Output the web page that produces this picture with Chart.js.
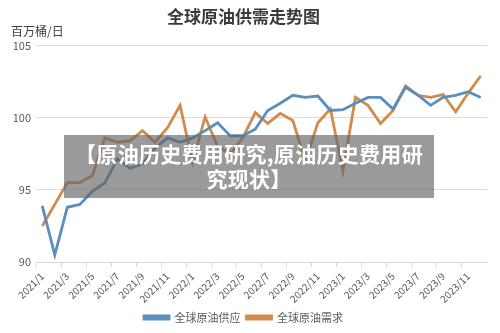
<!DOCTYPE html>
<html>
<head>
<meta charset="utf-8">
<script src="https://cdn.jsdelivr.net/npm/chart.js@4.4.1/dist/chart.umd.min.js"></script>
<style>
  html, body { margin: 0; padding: 0; background: #fff; }
  #wrap { position: relative; width: 500px; height: 333px; }
  #unit { position: absolute; left: 11px; top: 22px; font: 12px "Noto Sans CJK SC", sans-serif; color: #404040; }
  #banner {
    position: absolute; left: 64px; top: 135px; width: 370px; height: 63px;
    background: rgba(100, 100, 100, 0.65); color: #fff; text-align: center;
    font: bold 21px/25px "Noto Sans CJK SC", sans-serif; letter-spacing: 0.3px; padding-top: 6px; box-sizing: border-box;
  }
</style>
</head>
<body>
<div id="wrap">
  <canvas id="c" width="500" height="333"></canvas>
  <div id="unit">百万桶/日</div>
  <div id="banner">【原油历史费用研究,原油历史费用研<br>究现状】</div>
</div>
<script>
var months = ['2021/1','2021/2','2021/3','2021/4','2021/5','2021/6','2021/7','2021/8','2021/9','2021/10','2021/11','2021/12',
              '2022/1','2022/2','2022/3','2022/4','2022/5','2022/6','2022/7','2022/8','2022/9','2022/10','2022/11','2022/12',
              '2023/1','2023/2','2023/3','2023/4','2023/5','2023/6','2023/7','2023/8','2023/9','2023/10','2023/11','2023/12'];

// 百万桶/日
var supply = [93.9, 90.5, 93.8, 94.0, 94.9, 95.5, 97.15, 96.5, 96.8, 97.9, 98.6, 98.3,
              98.6, 99.1, 99.65, 98.75, 98.75, 99.2, 100.5, 101.0, 101.55, 101.4, 101.5, 100.5,
              100.55, 101.0, 101.4, 101.4, 100.6, 102.1, 101.55, 100.85, 101.4, 101.55, 101.8, 101.4];
var demand = [92.5, 94.0, 95.5, 95.5, 96.0, 98.6, 98.3, 98.4, 99.1, 98.3, 99.3, 100.85,
              96.9, 100.05, 98.0, 97.5, 98.6, 100.35, 99.6, 100.3, 99.8, 97.0, 99.65, 100.6,
              96.3, 101.4, 100.85, 99.6, 100.5, 102.2, 101.55, 101.4, 101.6, 100.4, 101.7, 102.9];

var yTicks = [90, 95, 100, 105];

var ctx = document.getElementById('c').getContext('2d');
var chart = new Chart(ctx, {
    type: 'line',
    data: {
        labels: months,
        datasets: [{
            label: '全球原油供应',
            data: supply,
            borderColor: '#5a8fbd',
            backgroundColor: '#5a8fbd',
            borderWidth: 2.8,
            pointRadius: 0,
            tension: 0
        }, {
            label: '全球原油需求',
            data: demand,
            borderColor: '#d18b4e',
            backgroundColor: '#d18b4e',
            borderWidth: 2.8,
            pointRadius: 0,
            tension: 0
        }]
    },
    options: {
        responsive: false,
        animation: false,
        layout: { padding: { left: 0, right: 13, bottom: 0 } },
        plugins: {
            title: {
                display: true,
                text: '全球原油供需走势图',
                color: '#3a3a3a',
                font: { family: '"Noto Sans CJK SC"', size: 17, weight: 'bold' },
                padding: { top: 6, bottom: 19 }
            },
            legend: {
                position: 'bottom',
                labels: {
                    boxWidth: 25,
                    boxHeight: 3,
                    padding: 6,
                    color: '#595959',
                    font: { family: '"Noto Sans CJK SC"', size: 11 }
                }
            },
            tooltip: { enabled: false }
        },
        scales: {
            x: {
                offset: true,
                afterFit: function (s) { s.height = s.height - 2; },
                grid: {
                    offset: true,
                    drawOnChartArea: false,
                    tickLength: 5,
                    tickColor: function (c) { return c.index % 2 === 0 ? '#d9d9d9' : 'rgba(0,0,0,0)'; }
                },
                border: { color: '#d9d9d9' },
                ticks: {
                    autoSkip: false,
                    minRotation: 45,
                    maxRotation: 45,
                    color: '#595959',
                    font: { family: '"Noto Sans CJK SC"', size: 10 },
                    callback: function (v, i) { return i % 2 === 0 ? months[i] : ''; }
                }
            },
            y: {
                min: yTicks[0],
                max: yTicks[yTicks.length - 1],
                afterBuildTicks: function (s) { s.ticks = yTicks.map(function (v) { return { value: v }; }); },
                afterFit: function (s) { s.width = 36; },
                grid: { color: '#dcdcdc', drawTicks: false },
                border: { display: false },
                ticks: {
                    padding: 5,
                    color: '#595959',
                    font: { family: '"Noto Sans CJK SC"', size: 11 }
                }
            }
        }
    }
});
</script>
</body>
</html>
